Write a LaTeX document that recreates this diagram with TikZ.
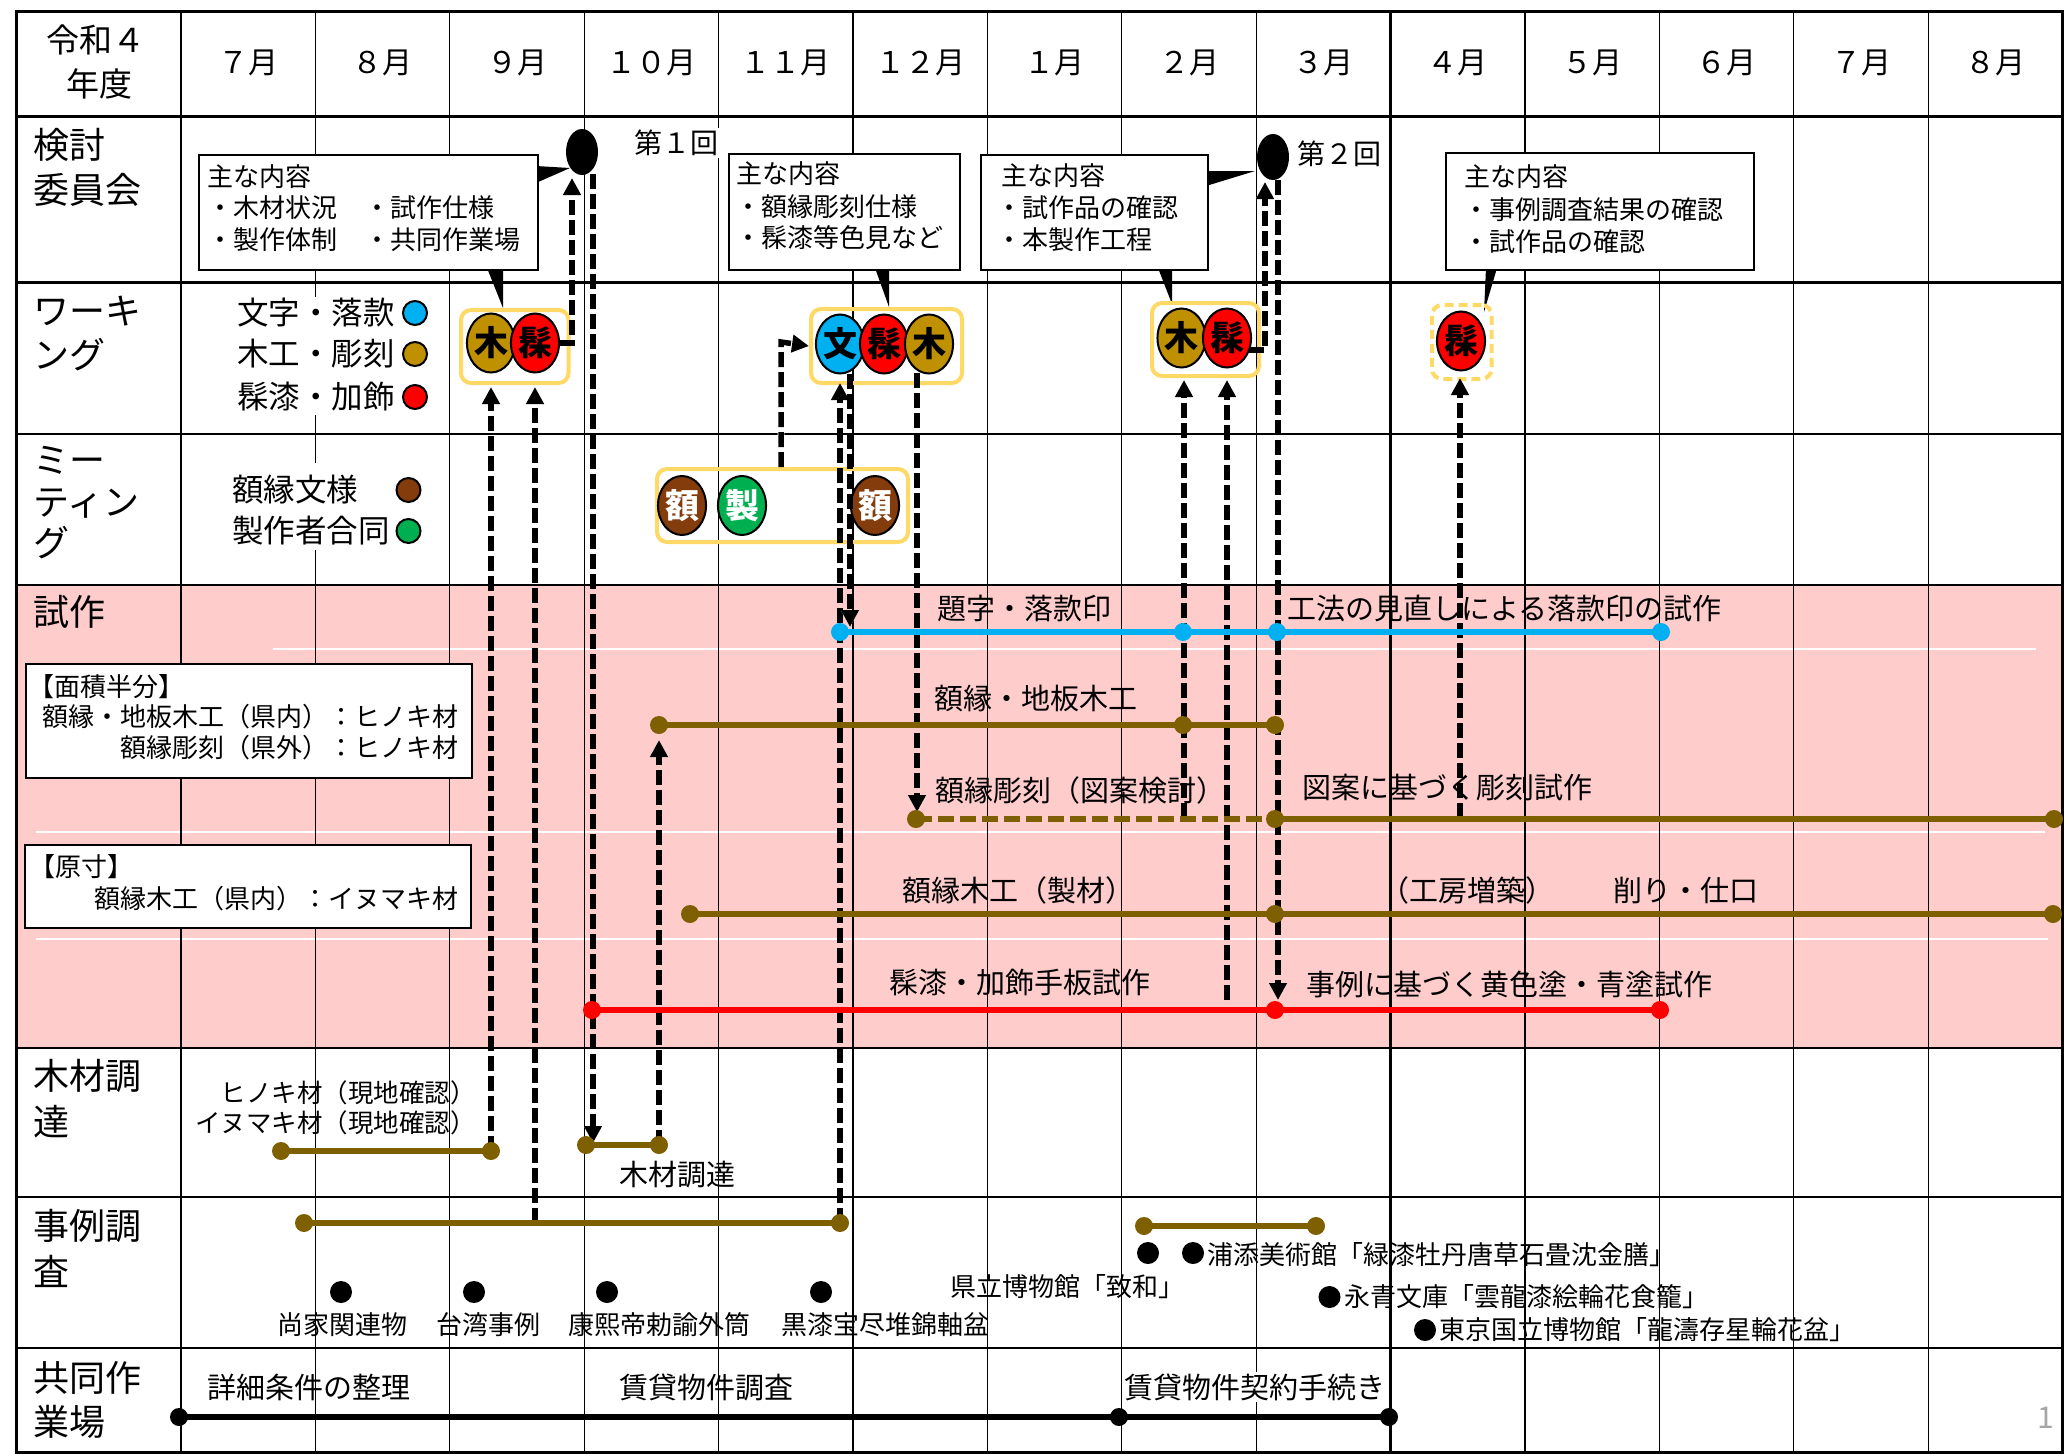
\documentclass[tikz,border=0pt]{standalone}
\usepackage{fontspec}
\setmainfont{Noto Sans CJK JP}
\usetikzlibrary{shapes.geometric,arrows.meta}
\definecolor{cyanc}{HTML}{00B0F0}
\definecolor{goldc}{HTML}{BF9000}
\definecolor{redc}{HTML}{FF0000}
\definecolor{brownc}{HTML}{843C0C}
\definecolor{greenc}{HTML}{00B050}
\definecolor{barc}{HTML}{7F6000}
\definecolor{yelc}{HTML}{FFD966}
\definecolor{pinkc}{HTML}{FFCCCC}
\definecolor{pgnum}{HTML}{A6A6A6}
\newcommand{\jfs}[1]{\fontsize{#1pt}{#1pt}\selectfont}
\begin{document}
\begin{tikzpicture}[x=1pt,y=-1pt,
  rowlbl/.style={inner sep=0pt,anchor=west,font=\jfs{36}},
  mon/.style={inner sep=0pt,font=\jfs{30}},
  cbox/.style={draw,line width=2pt,fill=white,anchor=north west,inner sep=0pt},
  ctext/.style={inner sep=0pt,anchor=west,font=\jfs{26}},
  grp/.style={draw=yelc,line width=4pt,rounded corners=10pt,anchor=north west,inner sep=0pt},
  wk/.style={ellipse,draw,line width=2pt,minimum width=42pt,minimum height=59pt,inner sep=0pt,font=\jfs{34}\bfseries},
  legc/.style={circle,draw,line width=2pt,minimum size=24pt,inner sep=0pt},
  legt/.style={inner sep=0pt,anchor=west,font=\jfs{31.5}},
  bar/.style={line width=6pt},
  darr/.style={line width=5.5pt,dash pattern=on 15pt off 5pt,
    preaction={draw=white,line width=6.7pt,dash pattern=on 15pt off 5pt},
    -{Triangle[length=17pt,width=17pt]}},
  tlbl/.style={inner sep=0pt,anchor=west,font=\jfs{29}},
  slbl/.style={inner sep=0pt,anchor=west,font=\jfs{26}},
  evdot/.style={circle,fill=black,inner sep=0pt,minimum size=22pt},
  kdot/.style={ellipse,fill=black,inner sep=0pt,minimum width=32pt,minimum height=46pt}
]
\useasboundingbox (0,0) rectangle (2065,1454);
\fill[white] (0,0) rectangle (2065,1454);
% pink band
\fill[pinkc] (16.5,585) rectangle (2062.6,1048);
\draw[white,line width=1.5pt] (273,649) -- (2036,649);
\draw[white,line width=1.5pt] (36,832) -- (2045,832);
\draw[white,line width=1.5pt] (36,939) -- (2048,939);
% grid
\foreach \i in {0,...,13} {\draw[line width=1.3pt] ({181+134.4*\i},11.7) -- ({181+134.4*\i},1452.5);}
\draw[line width=3pt] (1390.6,11.7) -- (1390.6,1452.5);
\foreach \y in {116.7,282.7,434,585,1048,1197,1348} {\draw[line width=2.5pt] (16.5,\y) -- (2062.6,\y);}
\draw[line width=2.5pt] (16.5,11.7) rectangle (2062.6,1452.5);
% header
\node[inner sep=0pt,font=\jfs{33}] (hd1) at (96,40) {令和４};
\node[inner sep=0pt,font=\jfs{33}] (hd2) at (99,84) {年度};
\foreach \m [count=\i from 0] in {７月,８月,９月,１０月,１１月,１２月,１月,２月,３月,４月,５月,６月,７月,８月}
  {\node[mon] (m\i) at ({181+134.4*(\i+0.5)},63) {\m};}
% row labels
\node[rowlbl] (ra1) at (33,145) {検討};
\node[rowlbl] (ra2) at (33,190) {委員会};
\node[rowlbl] (rb1) at (33,311) {ワーキ};
\node[rowlbl] (rb2) at (33,355) {ング};
\node[rowlbl] (rc1) at (33,460) {ミー};
\node[rowlbl] (rc2) at (33,504) {ティン};
\node[rowlbl] (rc3) at (33,543) {グ};
\node[rowlbl] (rd1) at (33,612) {試作};
\node[rowlbl] (re1) at (33,1076) {木材調};
\node[rowlbl] (re2) at (33,1122) {達};
\node[rowlbl] (rf1) at (33,1226) {事例調};
\node[rowlbl] (rf2) at (33,1271) {査};
\node[rowlbl] (rg1) at (33,1378) {共同作};
\node[rowlbl] (rg2) at (33,1422) {業場};
% legends
\fill[white] (234,297) rectangle (399,415);
\node[legt] (lg1) at (237,313) {文字・落款};
\node[legt] (lg2) at (237,354) {木工・彫刻};
\node[legt] (lg3) at (237,397) {髹漆・加飾};
\node[legc,fill=cyanc] (lc1) at (415,313) {};
\node[legc,fill=goldc] (lc2) at (415,354) {};
\node[legc,fill=redc] (lc3) at (415,397) {};
\fill[white] (230,463) rectangle (394,550);
\node[legt] (lg4) at (232,490) {額縁文様};
\node[legt] (lg5) at (232,531) {製作者合同};
\node[legc,fill=brownc] (lc4) at (408.5,490) {};
\node[legc,fill=greenc] (lc5) at (408.5,531) {};
% committee ellipses
\node[kdot] (k1) at (582,152) {};
\node[kdot] (k2) at (1273,157) {};
\node[inner sep=2pt,fill=white,font=\jfs{28}] (r1) at (676,143) {第１回};
\node[inner sep=0pt,font=\jfs{28}] (r2) at (1339,154) {第２回};
% callouts
\fill (487,268) -- (503,268) -- (503,308) -- cycle;
\fill (536,166) -- (536,183) -- (570,168) -- cycle;
\node[cbox,minimum width=339.4pt,minimum height=115pt] (cb1) at (197.6,154) {};
\node[ctext] (cb1a) at (207.5,177) {主な内容};
\node[ctext] (cb1b) at (207,208) {・木材状況};
\node[ctext] (cb1c) at (364,208) {・試作仕様};
\node[ctext] (cb1d) at (207,240) {・製作体制};
\node[ctext] (cb1e) at (364,240) {・共同作業場};
\fill (875,268) -- (889,268) -- (889,307) -- cycle;
\node[cbox,minimum width=230.5pt,minimum height=116pt] (cb2) at (728,153) {};
\node[ctext] (cb2a) at (736.5,174) {主な内容};
\node[ctext] (cb2b) at (735,207) {・額縁彫刻仕様};
\node[ctext] (cb2c) at (735,238) {・髹漆等色見など};
\fill (1158,268) -- (1172,268) -- (1172,304) -- cycle;
\fill (1206,171) -- (1206,186) -- (1255,171) -- cycle;
\node[cbox,minimum width=227pt,minimum height=115pt] (cb3) at (980,154) {};
\node[ctext] (cb3a) at (1001,176) {主な内容};
\node[ctext] (cb3b) at (996,208) {・試作品の確認};
\node[ctext] (cb3c) at (996,240) {・本製作工程};
\fill (1486,268) -- (1497,268) -- (1484,312) -- cycle;
\node[cbox,minimum width=308pt,minimum height=117pt] (cb4) at (1445,152) {};
\node[ctext] (cb4a) at (1464.5,177) {主な内容};
\node[ctext] (cb4b) at (1463,210) {・事例調査結果の確認};
\node[ctext] (cb4c) at (1463,242) {・試作品の確認};
% boxes in trial row
\node[cbox,minimum width=446pt,minimum height=114pt] (bx1) at (25,663) {};
\node[slbl] (bx1a) at (28,687) {【面積半分】};
\node[slbl,anchor=east] (bx1b) at (459,717) {額縁・地板木工（県内）：ヒノキ材};
\node[slbl,anchor=east] (bx1c) at (459,748) {額縁彫刻（県外）：ヒノキ材};
\node[cbox,minimum width=446pt,minimum height=83pt] (bx2) at (24,844) {};
\node[slbl] (bx2a) at (29,867) {【原寸】};
\node[slbl,anchor=east] (bx2b) at (459,899) {額縁木工（県内）：イヌマキ材};
% trial labels
\node[tlbl] (t1) at (937,608) {題字・落款印};
\node[tlbl] (t2) at (1287,608) {工法の見直しによる落款印の試作};
\node[tlbl] (t3) at (934,698) {額縁・地板木工};
\node[tlbl] (t4) at (935,790) {額縁彫刻（図案検討）};
\node[tlbl] (t5) at (1302,788) {図案に基づく彫刻試作};
\node[tlbl] (t6) at (902,890) {額縁木工（製材）};
\node[tlbl] (t7) at (1380,890) {（工房増築）};
\node[tlbl] (t8) at (1613,890) {削り・仕口};
\node[tlbl] (t9) at (889,982) {髹漆・加飾手板試作};
\node[tlbl] (t10) at (1306,984) {事例に基づく黄色塗・青塗試作};
% wood procurement
\node[slbl,anchor=east,font=\jfs{25.5}] (wd1) at (476,1093) {ヒノキ材（現地確認）};
\node[slbl,anchor=east,font=\jfs{25.5}] (wd2) at (476,1123) {イヌマキ材（現地確認）};
\node[tlbl] (wd3) at (619,1175) {木材調達};
% case studies
\node[evdot] (ev1) at (341,1292) {};
\node[evdot] (ev2) at (474,1292) {};
\node[evdot] (ev3) at (607,1292) {};
\node[evdot] (ev4) at (821,1292) {};
\node[slbl] (es1) at (277,1325) {尚家関連物};
\node[slbl] (es2) at (436,1325) {台湾事例};
\node[slbl] (es3) at (568,1325) {康熙帝勅諭外筒};
\node[slbl] (es4) at (781,1325) {黒漆宝尽堆錦軸盆};
\node[slbl] (es5) at (950,1287) {県立博物館「致和」};
\node[evdot] (ev5) at (1148,1253) {};
\node[evdot] (ev6) at (1193,1253) {};
\node[slbl] (es6) at (1207,1255) {浦添美術館「緑漆牡丹唐草石畳沈金膳」};
\node[evdot] (ev7) at (1329.5,1297) {};
\node[slbl] (es7) at (1344,1297) {永青文庫「雲龍漆絵輪花食籠」};
\node[evdot] (ev8) at (1425,1330) {};
\node[slbl] (es8) at (1439,1330) {東京国立博物館「龍濤存星輪花盆」};
% joint workshop
\node[tlbl] (jw1) at (207,1387) {詳細条件の整理};
\node[tlbl] (jw2) at (619,1387) {賃貸物件調査};
\node[tlbl,fill=white,inner sep=2pt] (jw3) at (1122,1387) {賃貸物件契約手続き};
\draw[bar,black] (179,1417) -- (1389,1417);
\foreach \x in {179,1119,1389} {\fill[black] (\x,1417) circle[radius=9pt];}
\node[inner sep=0pt,font=\jfs{30},text=pgnum] (pg) at (2046,1418) {1};
% working groups
\node[grp,minimum width=107.5pt,minimum height=73pt] (g1) at (459,308) {};
\node[wk,fill=goldc] (w1a) at (491,343) {木};
\node[wk,fill=redc] (w1b) at (535,343) {髹};
\node[grp,minimum width=151pt,minimum height=74pt] (g2) at (809,307) {};
\node[wk,fill=cyanc] (w2a) at (840,344) {文};
\node[wk,fill=redc] (w2b) at (884,344) {髹};
\node[wk,fill=goldc] (w2c) at (929,344) {木};
\node[grp,minimum width=107pt,minimum height=73pt] (g3) at (1150,301) {};
\node[wk,fill=goldc] (w3a) at (1181.5,338) {木};
\node[wk,fill=redc] (w3b) at (1227,338) {髹};
\node[grp,dash pattern=on 9pt off 5pt,minimum width=59.5pt,minimum height=74pt] (g4) at (1430,303) {};
\node[wk,fill=redc] (w4a) at (1461,341) {髹};
% meeting group
\node[grp,minimum width=251pt,minimum height=73pt] (g5) at (655,467) {};
\node[wk,fill=brownc,text=white] (mt1) at (682,505.5) {額};
\node[wk,fill=greenc,text=white] (mt2) at (742,505.5) {製};
\node[wk,fill=brownc,text=white] (mt3) at (875,505.5) {額};
% dashed arrows
\draw[darr] (491,1151) -- (491,387);
\draw[darr] (535,1223) -- (535,387);
\draw[darr] (w1b.east) -- (572,343) -- (572,178);
\draw[darr] (593,174) -- (593,1143);
\draw[darr] (659,1145) -- (659,740);
\draw[darr] (781,467) -- (781,342) -- (g2.west);
\draw[darr] (840,1223) -- (840,383);
\draw[darr] (850,374) -- (850,627);
\draw[darr] (917,373) -- (917,812);
\draw[darr] (1184,818) -- (1184,380);
\draw[darr] (1227,1000) -- (1227,380);
\draw[darr] (1249,350) -- (1265,350) -- (1265,182);
\draw[darr] (1278,180) -- (1278,1000);
\draw[darr] (1460,818) -- (1460,378);
% bars (drawn over the dashed lines so their dots stay whole)
\draw[bar,cyanc] (840,632) -- (1661,632);
\foreach \x in {840,1183,1277,1661} {\fill[cyanc] (\x,632) circle[radius=9pt];}
\draw[bar,barc] (659,725) -- (1275,725);
\foreach \x in {659,1183,1275} {\fill[barc] (\x,725) circle[radius=9pt];}
\draw[bar,barc,dash pattern=on 16pt off 6pt] (916,819) -- (1275,819);
\draw[bar,barc] (1275,819) -- (2054,819);
\foreach \x in {916,1275,2054} {\fill[barc] (\x,819) circle[radius=9pt];}
\draw[bar,barc] (690,914) -- (2053,914);
\foreach \x in {690,1275,2053} {\fill[barc] (\x,914) circle[radius=9pt];}
\draw[bar,redc] (592,1010) -- (1660,1010);
\foreach \x in {592,1275,1660} {\fill[redc] (\x,1010) circle[radius=9pt];}
\draw[bar,barc] (281,1151) -- (491,1151);
\foreach \x in {281,491} {\fill[barc] (\x,1151) circle[radius=9pt];}
\draw[bar,barc] (586,1145) -- (659,1145);
\foreach \x in {586,659} {\fill[barc] (\x,1145) circle[radius=9pt];}
\draw[bar,barc] (304,1223) -- (840,1223);
\foreach \x in {304,840} {\fill[barc] (\x,1223) circle[radius=9pt];}
\draw[bar,barc] (1144,1226) -- (1316,1226);
\foreach \x in {1144,1316} {\fill[barc] (\x,1226) circle[radius=9pt];}
\end{tikzpicture}
\end{document}
